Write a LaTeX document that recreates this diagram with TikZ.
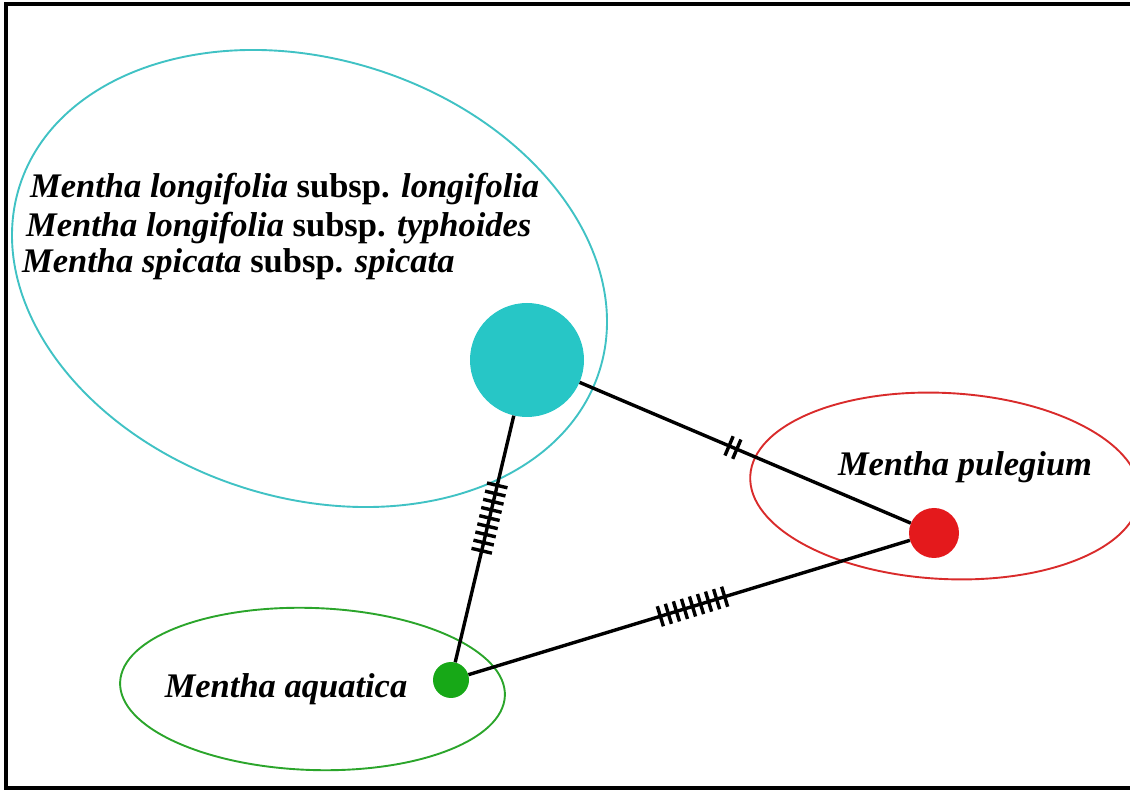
\documentclass[tikz,border=0pt]{standalone}
\usepackage{fontspec}
\setmainfont{Liberation Serif}
\usetikzlibrary{shapes.geometric}
\definecolor{cyfill}{HTML}{27C6C6}
\definecolor{cyline}{HTML}{40C2C4}
\definecolor{rdfill}{HTML}{E4191C}
\definecolor{rdline}{HTML}{D92B2B}
\definecolor{grfill}{HTML}{17A817}
\definecolor{grline}{HTML}{2BA52B}
\tikzset{
  lbl/.style={font=\fontsize{34.5}{40}\selectfont\bfseries, inner sep=0pt},
  group/.style={ellipse, draw=#1, line width=1.9pt, inner sep=0pt},
  hap/.style={circle, fill=#1, inner sep=0pt},
  edge/.style={line width=3.4pt, black},
  tickline/.style={line width=3.4pt, black},
  pics/ticks/.style={code={
    \foreach \i in {1,...,#1}{
      \draw[tickline] ({(\i-(#1+1)/2)*8.4},-10.5) -- ({(\i-(#1+1)/2)*8.4},10.5);
    }
  }}
}
\begin{document}
\begin{tikzpicture}[x=1pt,y=1pt]
\useasboundingbox (0,0) rectangle (1130,790);
\clip (0,0) rectangle (1130,790);
\draw[line width=4pt, black] (6,2) rectangle (1145,786);
% group ellipses
\node[group=cyline, rotate=-17.7, minimum width=608.6pt, minimum height=438.6pt] (cyE) at (309.5,511.5) {};
\node[group=rdline, rotate=-3, minimum width=390pt, minimum height=186pt] (rdE) at (945,304) {};
\node[group=grline, rotate=-2, minimum width=385pt, minimum height=162pt] (grE) at (312.5,101) {};
% haplotypes
\node[hap=cyfill, minimum size=114pt] (cy) at (527,430) {};
\node[hap=rdfill, minimum size=50pt] (rd) at (934,257) {};
\node[hap=grfill, minimum size=36pt] (gr) at (451,110) {};
% edges
\draw[edge] (cy) -- (rd);
\draw[edge] (cy) -- (gr);
\draw[edge] (gr) -- (rd);
% mutation ticks
\path (cy.center) -- (rd.center) pic[pos=0.506, sloped]{ticks=2};
\path (cy.center) -- (gr.center) pic[pos=0.494, sloped]{ticks=9};
\path (gr.center) -- (rd.center) pic[pos=0.5, sloped]{ticks=9};
% labels
\node[lbl, anchor=base west] (t1) at (30,592) {\textit{Mentha longifolia} subsp. \textit{longifolia}};
\node[lbl, anchor=base west] (t2) at (26,553) {\textit{Mentha longifolia} subsp. \textit{typhoides}};
\node[lbl, anchor=base west] (t3) at (22,517) {\textit{Mentha spicata} subsp. \textit{spicata}};
\node[lbl, anchor=base] (tp) at (965,314) {\textit{Mentha pulegium}};
\node[lbl, anchor=base] (ta) at (286,92) {\textit{Mentha aquatica}};
\end{tikzpicture}
\end{document}
